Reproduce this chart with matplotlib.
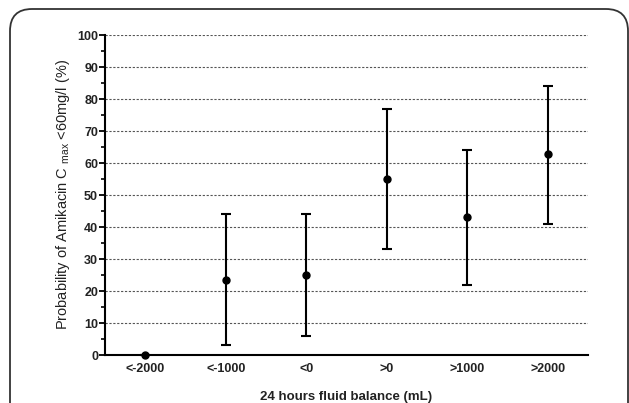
import matplotlib
matplotlib.use('Agg')
import matplotlib.pyplot as plt
import numpy as np
from matplotlib.patches import FancyBboxPatch
from matplotlib.ticker import MultipleLocator

# 数据
categories = ['<-2000', '<-1000', '<0', '>0', '>1000', '>2000']
prob = [0, 23.3, 25, 55, 43, 62.7]
ci_low = [0, 3, 6, 33, 22, 41]
ci_high = [0, 44, 44, 77, 64, 84]

plt.rcParams['font.family'] = ['Liberation Sans', 'DejaVu Sans']
plt.rcParams['mathtext.fontset'] = 'custom'
plt.rcParams['mathtext.rm'] = 'Liberation Sans'

fig = plt.figure(figsize=(6.29, 4.03), dpi=100)
# 圆角外框
box = FancyBboxPatch((10 / 629, -0.1), 618 / 629, 1.1 - 9 / 403,
                     boxstyle='round,pad=0,rounding_size=0.035',
                     transform=fig.transFigure, fill=False,
                     edgecolor='#333333', linewidth=1.3, mutation_aspect=629 / 403)
fig.patches.append(box)

ax = fig.add_axes([105 / 629, 48 / 403, 483 / 629, 320 / 403])
x = np.arange(len(categories))
yerr = [np.array(prob) - np.array(ci_low), np.array(ci_high) - np.array(prob)]
ax.errorbar(x, prob, yerr=yerr, fmt='o', color='black', markersize=5,
            elinewidth=1.5, capsize=3.5, capthick=1.5, clip_on=False, zorder=5)

ax.set_xlim(-0.5, 5.5)
ax.set_ylim(0, 100)
ax.set_xticks(x)
ax.set_xticklabels(categories, fontsize=9, fontweight='bold', color='#222222')
ax.tick_params(axis='x', length=0, pad=6)
ax.yaxis.set_major_locator(MultipleLocator(10))
ax.yaxis.set_minor_locator(MultipleLocator(5))
ax.tick_params(axis='y', which='major', length=4, width=1.3, labelsize=9, labelcolor='#222222', pad=1)
ax.tick_params(axis='y', which='minor', length=3, width=1.2)
for t in ax.get_yticklabels():
    t.set_fontweight('bold')

for v in range(10, 101, 10):
    ax.axhline(v, color='#555555', linewidth=0.8, linestyle=(0, (2, 1.5)), zorder=1)

ax.spines['top'].set_visible(False)
ax.spines['right'].set_visible(False)
ax.spines['left'].set_linewidth(1.5)
ax.spines['bottom'].set_linewidth(1.5)

ax.set_ylabel('Probability of Amikacin C $_{\\rm max}$ <60mg/l (%)', fontsize=10.5,
              color='#222222', labelpad=4)
ax.set_xlabel('24 hours fluid balance (mL)', fontsize=9.5, fontweight='bold',
              color='#222222', labelpad=11)

plt.savefig('out.png', dpi=100)
